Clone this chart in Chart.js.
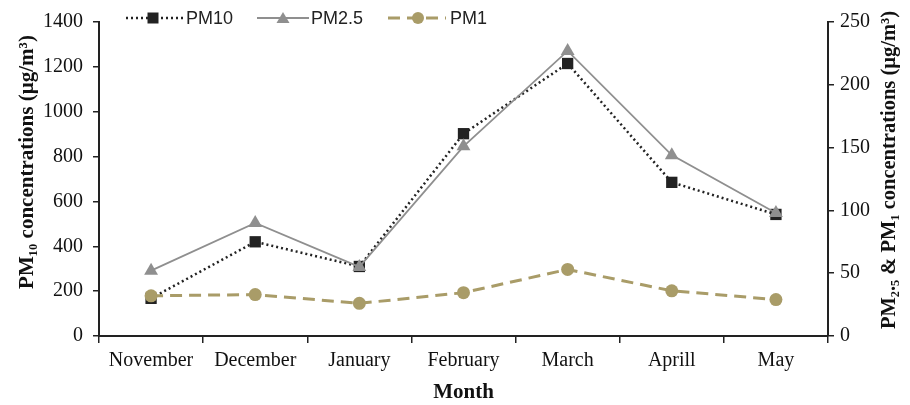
<!DOCTYPE html>
<html>
<head>
<meta charset="utf-8">
<script src="https://cdn.jsdelivr.net/npm/chart.js@4"></script>
<style>
  html, body { margin: 0; padding: 0; background: #fff; }
  #wrap { width: 910px; height: 405px; }
</style>
</head>
<body>
<div id="wrap"><canvas id="grafico"></canvas></div>
<script>
const meses = ['November', 'December', 'January', 'February', 'March', 'Aprill', 'May'];
const pm10 = [168, 420, 310, 902, 1215, 685, 542];   // eje izquierdo
const pm25 = [52, 90, 55, 151, 227, 144, 98];       // eje derecho
const pm1 = [32, 33, 26, 34.5, 53, 36, 29];         // eje derecho
const ticksIzq = [0, 1400, 200];
const ticksDer = [0, 250, 50];
const tituloIzq = 'PM₁₀ concentrations (µg/m³)';
const tituloDer = 'PM₂.₅ & PM₁ concentrations (µg/m³)';

const negro = '#222222';
const gris = '#8f8f8f';
const oliva = '#a99c68';
const serif = "'Liberation Serif', 'DejaVu Serif', serif";

// leyenda dibujada a mano: linea + marcador + texto
const leyendaManual = {
    id: 'leyendaManual',
    afterDraw(chart) {
        const ctx = chart.ctx;
        const y = 18;
        const items = [
            { x1: 126, x2: 183, m: 153, tx: 186, texto: 'PM10', color: negro, dash: [2, 3], w: 2.5, forma: 'rect' },
            { x1: 257, x2: 309, m: 283, tx: 311, texto: 'PM2.5', color: gris, dash: [], w: 1.8, forma: 'tri' },
            { x1: 388, x2: 446, m: 418, tx: 450, texto: 'PM1', color: oliva, dash: [12, 7], w: 3, forma: 'circ' }
        ];
        ctx.save();
        items.forEach(it => {
            ctx.strokeStyle = it.color;
            ctx.lineWidth = it.w;
            ctx.setLineDash(it.dash);
            ctx.beginPath();
            ctx.moveTo(it.x1, y);
            ctx.lineTo(it.x2, y);
            ctx.stroke();
            ctx.setLineDash([]);
            ctx.fillStyle = it.color;
            ctx.beginPath();
            if (it.forma === 'rect') {
                ctx.rect(it.m - 5.5, y - 5.5, 11, 11);
            } else if (it.forma === 'tri') {
                ctx.moveTo(it.m, y - 6);
                ctx.lineTo(it.m + 6.5, y + 5);
                ctx.lineTo(it.m - 6.5, y + 5);
                ctx.closePath();
            } else {
                ctx.arc(it.m, y, 6, 0, Math.PI * 2);
            }
            ctx.fill();
            ctx.fillStyle = '#222';
            ctx.font = "18px 'Liberation Sans', Arial, sans-serif";
            ctx.textBaseline = 'middle';
            ctx.textAlign = 'left';
            ctx.fillText(it.texto, it.tx, y + 1);
        });
        ctx.restore();
    }
};

// titulos de los ejes verticales, los dos leidos de abajo hacia arriba
const titulosEjes = {
    id: 'titulosEjes',
    afterDraw(chart) {
        const ctx = chart.ctx;
        const poner = (texto, x, y, size) => {
            ctx.save();
            ctx.translate(x, y);
            ctx.rotate(-Math.PI / 2);
            ctx.font = 'bold ' + size + 'px ' + serif;
            ctx.fillStyle = '#111';
            ctx.textAlign = 'center';
            ctx.textBaseline = 'middle';
            ctx.fillText(texto, 0, 0);
            ctx.restore();
        };
        poner(tituloIzq, 28, 162, 21);
        poner(tituloDer, 890, 170, 20.5);
    }
};

const sinComas = v => String(v);

const lienzo = document.getElementById('grafico');
const grafico = new Chart(lienzo, {
    type: 'line',
    data: {
        labels: meses,
        datasets: [
            {
                label: 'PM10',
                data: pm10,
                yAxisID: 'y',
                borderColor: negro,
                backgroundColor: negro,
                borderWidth: 2.5,
                borderDash: [2, 3],
                pointStyle: 'rect',
                pointRadius: 8,
                pointBorderWidth: 0,
                tension: 0,
                order: 3
            },
            {
                label: 'PM2.5',
                data: pm25,
                yAxisID: 'y1',
                borderColor: gris,
                backgroundColor: gris,
                borderWidth: 1.8,
                pointStyle: 'triangle',
                pointRadius: 8,
                pointBorderWidth: 0,
                tension: 0,
                order: 2
            },
            {
                label: 'PM1',
                data: pm1,
                yAxisID: 'y1',
                borderColor: oliva,
                backgroundColor: oliva,
                borderWidth: 3,
                borderDash: [12, 7],
                pointStyle: 'circle',
                pointRadius: 6.5,
                pointBorderWidth: 0,
                tension: 0,
                order: 1
            }
        ]
    },
    options: {
        responsive: true,
        maintainAspectRatio: false,
        animation: false,
        layout: { padding: { top: 19 } },
        plugins: {
            legend: { display: false },
            tooltip: { enabled: false }
        },
        scales: {
            x: {
                offset: true,
                afterFit: s => { s.height = 69; },
                grid: { offset: true, drawOnChartArea: false, drawTicks: true, tickLength: 7, color: negro, lineWidth: 1.5 },
                border: { display: true, color: negro, width: 2 },
                ticks: { color: '#111', font: { family: serif, size: 20 }, padding: 6 },
                title: { display: true, text: 'Month', color: '#111', font: { family: serif, size: 21, weight: 'bold' }, padding: { top: 0, bottom: 0 } }
            },
            y: {
                position: 'left',
                min: ticksIzq[0],
                max: ticksIzq[1],
                afterFit: s => { s.width = 99; },
                grid: { drawOnChartArea: false, drawTicks: true, tickLength: 6, color: negro, lineWidth: 1.5 },
                border: { display: true, color: negro, width: 2 },
                ticks: { stepSize: ticksIzq[2], color: '#111', font: { family: serif, size: 20 }, padding: 10, callback: sinComas }
            },
            y1: {
                position: 'right',
                min: ticksDer[0],
                max: ticksDer[1],
                afterFit: s => { s.width = 82; },
                grid: { drawOnChartArea: false, drawTicks: true, tickLength: 6, color: negro, lineWidth: 1.5 },
                border: { display: true, color: negro, width: 2 },
                ticks: { stepSize: ticksDer[2], color: '#111', font: { family: serif, size: 20 }, padding: 6, callback: sinComas }
            }
        }
    },
    plugins: [leyendaManual, titulosEjes]
});
</script>
</body>
</html>
